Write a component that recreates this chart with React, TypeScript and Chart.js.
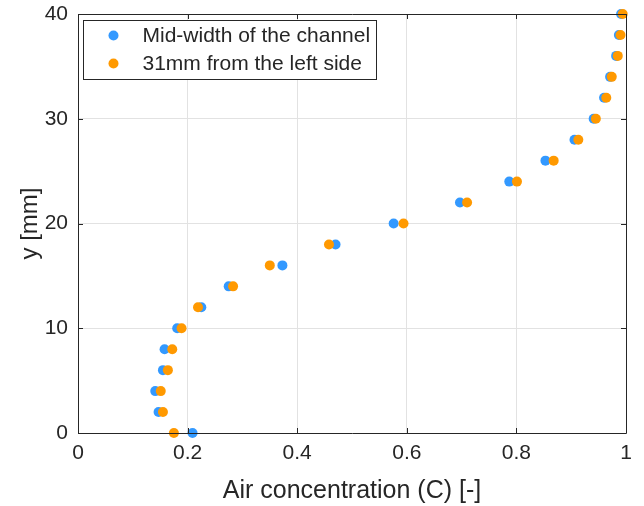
import { useEffect, useRef } from "react";
import { Chart, registerables } from "chart.js";

Chart.register(...registerables);

const yPositions = [0, 2, 4, 6, 8, 10, 12, 14, 16, 18, 20, 22, 24, 26, 28, 30, 32, 34, 36, 38, 40];
const midWidth = [0.209, 0.147, 0.141, 0.155, 0.158, 0.181, 0.225, 0.275, 0.373, 0.47, 0.576, 0.697, 0.787, 0.853, 0.906, 0.941, 0.96, 0.971, 0.982, 0.987, 0.991];
const fromLeft31 = [0.175, 0.155, 0.151, 0.164, 0.172, 0.189, 0.219, 0.283, 0.35, 0.458, 0.594, 0.71, 0.801, 0.868, 0.913, 0.945, 0.964, 0.974, 0.985, 0.99, 0.994];
const seriesLabels = ["Mid-width of the channel", "31mm from the left side"];
const xTicks = [0, 0.2, 0.4, 0.6, 0.8, 1];
const yTicks = [0, 10, 20, 30, 40];

const BLUE = "#3399ff";
const ORANGE = "#ff9900";
const TEXT = "#262626";
const FONT = "'Liberation Sans', Arial, sans-serif";

const boxPlugin = {
  id: "boxTicks",
  afterDraw(chart: any) {
    const { ctx, chartArea: a, scales } = chart;
    ctx.save();
    ctx.strokeStyle = TEXT;
    ctx.lineWidth = 1;
    ctx.beginPath();
    ctx.rect(Math.round(a.left) + 0.5, Math.round(a.top) + 0.5, Math.round(a.right - a.left), Math.round(a.bottom - a.top));
    const L = 5;
    xTicks.forEach((v) => {
      const x = Math.round(scales.x.getPixelForValue(v)) + 0.5;
      ctx.moveTo(x, a.bottom);
      ctx.lineTo(x, a.bottom - L);
      ctx.moveTo(x, a.top);
      ctx.lineTo(x, a.top + L);
    });
    yTicks.forEach((v) => {
      const y = Math.round(scales.y.getPixelForValue(v)) + 0.5;
      ctx.moveTo(a.left, y);
      ctx.lineTo(a.left + L, y);
      ctx.moveTo(a.right, y);
      ctx.lineTo(a.right - L, y);
    });
    ctx.stroke();

    // legend
    const bx = Math.round(a.left) + 5.5;
    const by = Math.round(a.top) + 6.5;
    const bw = 293;
    const bh = 59;
    ctx.fillStyle = "#ffffff";
    ctx.fillRect(bx, by, bw, bh);
    ctx.strokeRect(bx, by, bw, bh);
    const colors = [BLUE, ORANGE];
    ctx.font = `21px ${FONT}`;
    ctx.textBaseline = "middle";
    seriesLabels.forEach((lab, i) => {
      const cy = by + 15 + i * 28;
      ctx.fillStyle = colors[i];
      ctx.beginPath();
      ctx.arc(bx + 30, cy, 5, 0, Math.PI * 2);
      ctx.fill();
      ctx.fillStyle = TEXT;
      ctx.fillText(lab, bx + 59, cy + 1);
    });
    ctx.restore();
  },
};

export default function App() {
  const ref = useRef<HTMLCanvasElement | null>(null);
  useEffect(() => {
    document.body.style.margin = "0";
    const canvas = ref.current!;
    const chart = new Chart(canvas, {
      type: "scatter",
      data: {
        datasets: [
          {
            label: seriesLabels[0],
            data: yPositions.map((y, i) => ({ x: midWidth[i], y })),
            backgroundColor: BLUE,
            borderWidth: 0,
            pointRadius: 5,
            order: 1,
            clip: false as any,
          },
          {
            label: seriesLabels[1],
            data: yPositions.map((y, i) => ({ x: fromLeft31[i], y })),
            backgroundColor: ORANGE,
            borderWidth: 0,
            pointRadius: 5,
            order: 0,
            clip: false as any,
          },
        ],
      },
      options: {
        animation: false,
        responsive: false,
        layout: { padding: { left: 0, top: 14, right: 18, bottom: 0 } },
        plugins: { legend: { display: false }, tooltip: { enabled: false } },
        scales: {
          x: {
            type: "linear",
            min: 0,
            max: 1,
            afterBuildTicks: (s: any) => {
              s.ticks = xTicks.map((v) => ({ value: v }));
            },
            afterFit: (s: any) => {
              s.height = 73;
              s.paddingLeft = 0;
              s.paddingRight = 0;
            },
            grid: { color: "#e2e2e2", drawTicks: false },
            border: { display: false },
            ticks: {
              color: TEXT,
              font: { family: FONT, size: 21 },
              padding: 8,
              callback: (v: any) => String(v),
            },
            title: {
              display: true,
              text: "Air concentration (C) [-]",
              color: TEXT,
              font: { family: FONT, size: 25 },
              padding: { top: 0, bottom: 0 },
            },
          },
          y: {
            type: "linear",
            min: 0,
            max: 40,
            afterBuildTicks: (s: any) => {
              s.ticks = yTicks.map((v) => ({ value: v }));
            },
            afterFit: (s: any) => {
              s.width = 78;
              s.paddingTop = 0;
              s.paddingBottom = 0;
            },
            grid: { color: "#e2e2e2", drawTicks: false },
            border: { display: false },
            ticks: {
              color: TEXT,
              font: { family: FONT, size: 21 },
              padding: 10,
            },
            title: {
              display: true,
              text: "y [mm]",
              color: TEXT,
              font: { family: FONT, size: 24 },
              padding: { top: 16, bottom: 0 },
            },
          },
        },
      },
      plugins: [boxPlugin],
    });
    return () => chart.destroy();
  }, []);
  return <canvas ref={ref} width={644} height={506} style={{ display: "block" }} />;
}
